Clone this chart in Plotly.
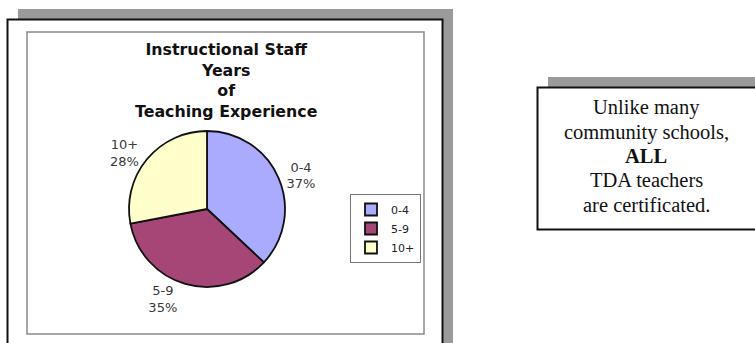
import plotly.graph_objects as go

# ---- data ----
categories = ["0-4", "5-9", "10+"]
shares = [37, 35, 28]
slice_colors = ["#AAAAFF", "#A54677", "#FFFFCC"]
title_lines = ["Instructional Staff", "Years", "of", "Teaching Experience"]
note_lines = ["Unlike many", "community schools,", "<b>ALL</b>", "TDA teachers", "are certificated."]

W, H = 755, 343


def px(x):
    return x / W


def py(y):
    return 1 - y / H


fig = go.Figure()

# pie centre (207, 209), radius 78
cx, cy, r = 207, 209, 78
fig.add_trace(go.Pie(
    labels=categories,
    values=shares,
    sort=False,
    direction="clockwise",
    rotation=0,
    marker=dict(colors=slice_colors, line=dict(color="#111", width=1.8)),
    textposition="outside",
    texttemplate="%{label}<br>%{percent:.0%}",
    outsidetextfont=dict(family="DejaVu Sans", size=13, color="#3a3a3a"),
    domain=dict(x=[px(cx - r), px(cx + r)], y=[py(cy + r), py(cy - r)]),
    hoverinfo="label+percent",
))

shapes = [
    # left frame shadow
    dict(type="rect", xref="paper", yref="paper", x0=px(18), x1=px(453), y0=py(360), y1=py(9),
         fillcolor="#9a9a9a", line=dict(width=0), layer="below"),
    # left frame
    dict(type="rect", xref="paper", yref="paper", x0=px(7.5), x1=px(442.5), y0=py(360), y1=py(19.5),
         fillcolor="white", line=dict(color="#111", width=2), layer="below"),
    # inner chart border
    dict(type="rect", xref="paper", yref="paper", x0=px(27), x1=px(424), y0=py(334), y1=py(32),
         fillcolor="white", line=dict(color="#8a8a8a", width=1.5), layer="below"),
    # right box shadow
    dict(type="rect", xref="paper", yref="paper", x0=px(548), x1=px(780), y0=py(220), y1=py(77),
         fillcolor="#9a9a9a", line=dict(width=0), layer="below"),
    # right box
    dict(type="rect", xref="paper", yref="paper", x0=px(537.5), x1=px(780), y0=py(229.5), y1=py(87.5),
         fillcolor="white", line=dict(color="#111", width=2), layer="below"),
]

annotations = [
    dict(text="<b>" + "<br>".join(title_lines) + "</b>", xref="paper", yref="paper",
         x=px(226), y=py(80.5), xanchor="center", yanchor="middle", showarrow=False, align="center",
         font=dict(family="DejaVu Sans", size=15.8, color="#111"))
]

note_y = [108, 132, 156, 180, 205]
for line, yy in zip(note_lines, note_y):
    annotations.append(dict(text=line, xref="paper", yref="paper", x=px(646), y=py(yy),
                            xanchor="center", yanchor="middle", showarrow=False,
                            font=dict(family="Liberation Serif", size=20.5, color="#111")))

fig.update_layout(
    width=W, height=H, autosize=False,
    margin=dict(l=0, r=0, t=0, b=0),
    paper_bgcolor="white", plot_bgcolor="white",
    shapes=shapes,
    annotations=annotations,
    showlegend=True,
    legend=dict(x=px(421), y=py(194), xanchor="right", yanchor="top",
                bgcolor="white", bordercolor="#777", borderwidth=1,
                font=dict(family="DejaVu Sans", size=11, color="#222"),
                itemwidth=30, tracegroupgap=0),
)

fig.write_html("out.html", config={"displayModeBar": False},
               post_script="document.body.style.margin='0';")
